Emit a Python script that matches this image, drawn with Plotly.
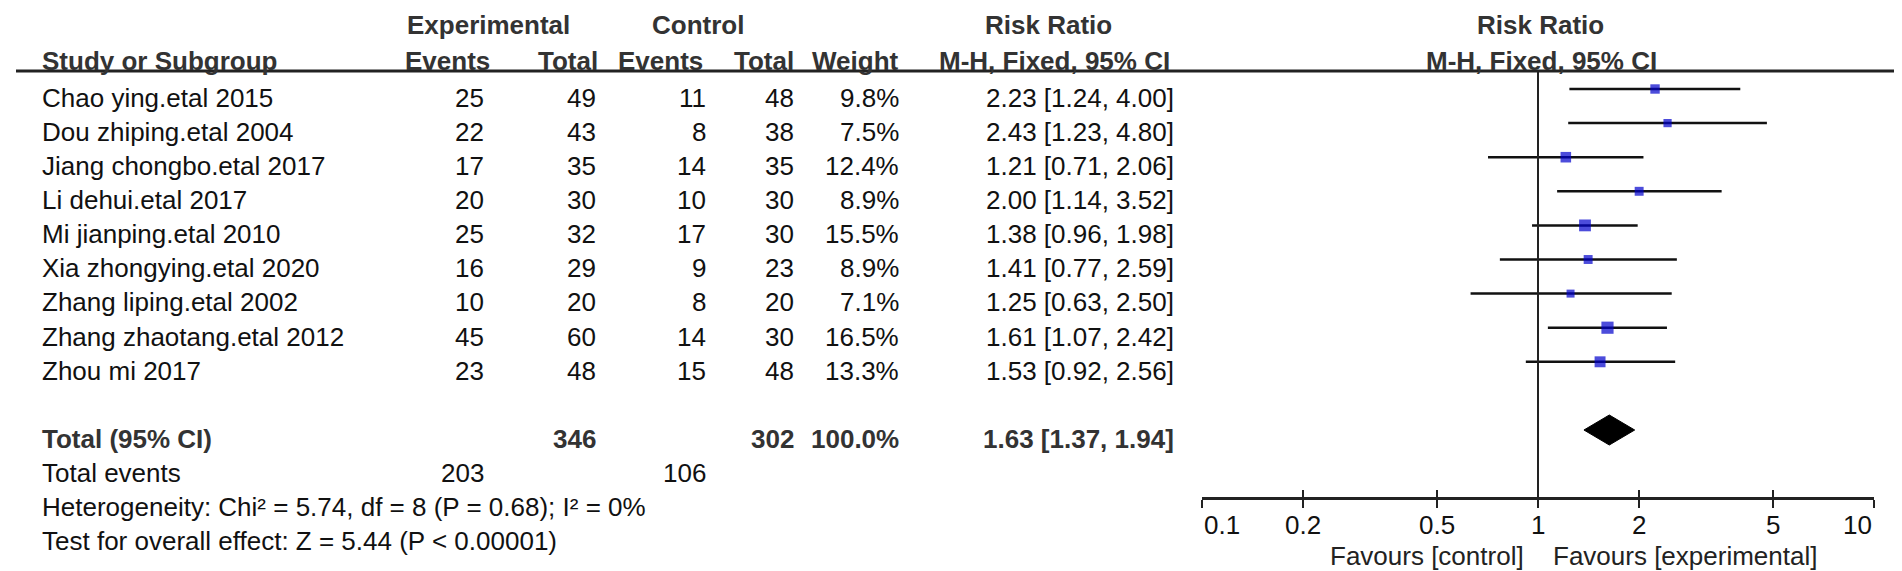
import numpy as np
import plotly.graph_objects as go

# study data
studies = ["Chao ying.etal 2015", "Dou zhiping.etal 2004", "Jiang chongbo.etal 2017",
           "Li dehui.etal 2017", "Mi jianping.etal 2010", "Xia zhongying.etal 2020",
           "Zhang liping.etal 2002", "Zhang zhaotang.etal 2012", "Zhou mi 2017"]
exp_events = [25, 22, 17, 20, 25, 16, 10, 45, 23]
exp_total = [49, 43, 35, 30, 32, 29, 20, 60, 48]
ctrl_events = [11, 8, 14, 10, 17, 9, 8, 14, 15]
ctrl_total = [48, 38, 35, 30, 30, 23, 20, 30, 48]
weight = [9.8, 7.5, 12.4, 8.9, 15.5, 8.9, 7.1, 16.5, 13.3]
rr = [2.23, 2.43, 1.21, 2.00, 1.38, 1.41, 1.25, 1.61, 1.53]
ci_lo = [1.24, 1.23, 0.71, 1.14, 0.96, 0.77, 0.63, 1.07, 0.92]
ci_hi = [4.00, 4.80, 2.06, 3.52, 1.98, 2.59, 2.50, 2.42, 2.56]

total_rr, total_lo, total_hi = 1.63, 1.37, 1.94
total_exp, total_ctrl = 346, 302
events_exp, events_ctrl = 203, 106
het_text = "Heterogeneity: Chi² = 5.74, df = 8 (P = 0.68); I² = 0%"
test_text = "Test for overall effect: Z = 5.44 (P < 0.00001)"

tick_vals = [0.1, 0.2, 0.5, 1, 2, 5, 10]
tick_text = ["0.1", "0.2", "0.5", "1", "2", "5", "10"]

W, H = 1902, 571
ROW0, ROWH = 81, 34.1          # pixel y of first row, row pitch
AXIS_PX = 490                  # pixel y of the x axis line
FONT = "Liberation Sans, Arial, sans-serif"
FS = 26
TXT_OFF = 0.26                 # table text sits a bit below the CI line

def ry(p):
    # pixel y -> row units
    return (p - ROW0) / ROWH

rows = list(range(len(studies)))
total_row = len(studies) + 1

fig = go.Figure()

# CI lines
lx, ly = [], []
for i in rows:
    lx += [ci_lo[i], ci_hi[i], None]
    ly += [i, i, None]
fig.add_trace(go.Scatter(x=lx, y=ly, mode="lines", line=dict(color="#111", width=2.5),
                         hoverinfo="skip", showlegend=False))

# weight boxes (area ~ weight)
fig.add_trace(go.Scatter(x=rr, y=rows, mode="markers",
                         marker=dict(symbol="square", color="#0000cc",
                                     size=[3.0 * np.sqrt(w) for w in weight], line=dict(width=0)),
                         hoverinfo="skip", showlegend=False))

# pooled diamond
dh = 15 / ROWH
fig.add_trace(go.Scatter(x=[total_lo, total_rr, total_hi, total_rr, total_lo],
                         y=[total_row, total_row - dh, total_row, total_row + dh, total_row],
                         mode="lines", fill="toself", fillcolor="black",
                         line=dict(color="black", width=1), hoverinfo="skip", showlegend=False))

ann = []

def txt(x, y, s, anchor="left", bold=False, color="#111"):
    if bold:
        s = "<b>" + s + "</b>"
        color = "#333"
    ann.append(dict(x=x / W, xref="paper", y=y, yref="y", text=s, showarrow=False,
                    xanchor=anchor, yanchor="middle", font=dict(family=FONT, size=FS, color=color)))

# headers
h1 = ry(17)
h2 = ry(53)
txt(481, h1, "Experimental", "center", True)
txt(690, h1, "Control", "center", True)
txt(1040, h1, "Risk Ratio", "center", True)
txt(1532, h1, "Risk Ratio", "center", True)
txt(32, h2, "Study or Subgroup", "left", True)
txt(484, h2, "Events", "right", True)
txt(592, h2, "Total", "right", True)
txt(697, h2, "Events", "right", True)
txt(788, h2, "Total", "right", True)
txt(893, h2, "Weight", "right", True)
txt(1046, h2, "M-H, Fixed, 95% CI", "center", True)
txt(1533, h2, "M-H, Fixed, 95% CI", "center", True)

# study rows
for i in rows:
    y = i + TXT_OFF
    txt(32, y, studies[i])
    txt(478, y, str(exp_events[i]), "right")
    txt(590, y, str(exp_total[i]), "right")
    txt(700, y, str(ctrl_events[i]), "right")
    txt(788, y, str(ctrl_total[i]), "right")
    txt(893, y, f"{weight[i]:.1f}%", "right")
    txt(1168, y, f"{rr[i]:.2f} [{ci_lo[i]:.2f}, {ci_hi[i]:.2f}]", "right")

# totals
y = total_row + TXT_OFF
txt(32, y, "Total (95% CI)", "left", True)
txt(590, y, str(total_exp), "right", True)
txt(788, y, str(total_ctrl), "right", True)
txt(893, y, "100.0%", "right", True)
txt(1168, y, f"{total_rr:.2f} [{total_lo:.2f}, {total_hi:.2f}]", "right", True)
y = total_row + 1 + TXT_OFF
txt(32, y, "Total events")
txt(478, y, str(events_exp), "right")
txt(700, y, str(events_ctrl), "right")
txt(32, total_row + 2 + TXT_OFF, het_text)
txt(32, total_row + 3 + TXT_OFF, test_text)

# axis tick labels, end labels pulled inward
for v, t in zip(tick_vals, tick_text):
    a = "left" if v == tick_vals[0] else ("right" if v == tick_vals[-1] else "center")
    ann.append(dict(x=np.log10(v), xref="x", y=ry(517), yref="y", text=t, showarrow=False,
                    xanchor=a, yanchor="middle", font=dict(family=FONT, size=FS, color="#111")))
txt(1518, ry(548), "Favours [control]", "right", color="#222")
txt(1543, ry(548), "Favours [experimental]", "left", color="#222")

axis_y = ry(AXIS_PX)
shapes = [
    dict(type="line", xref="paper", yref="y", x0=8 / W, x1=1, y0=ry(63), y1=ry(63),
         line=dict(color="#222", width=3)),
    dict(type="line", xref="x", yref="y", x0=1, x1=1, y0=ry(63), y1=axis_y,
         line=dict(color="#222", width=2)),
]

x0p, x1p = 1194 / W, 1866 / W
axis_pos = 1 - AXIS_PX / H
fig.update_layout(
    width=W, height=H, margin=dict(l=0, r=0, t=0, b=0),
    paper_bgcolor="white", plot_bgcolor="white",
    annotations=ann, shapes=shapes,
    xaxis=dict(type="log", range=[-1, 1], domain=[x0p, x1p], anchor="free", position=axis_pos,
               showgrid=False, zeroline=False, showline=True, linecolor="#222", linewidth=3,
               ticks="outside", ticklen=8, tickwidth=2, tickcolor="#222",
               tickvals=tick_vals, showticklabels=False),
    xaxis2=dict(type="log", range=[-1, 1], domain=[x0p, x1p], anchor="free", position=axis_pos,
                overlaying="x", showgrid=False, zeroline=False, showline=False,
                ticks="inside", ticklen=8, tickwidth=2, tickcolor="#222",
                tickvals=tick_vals, showticklabels=False),
    yaxis=dict(range=[ry(H), ry(0)], domain=[0, 1], visible=False,
               showgrid=False, zeroline=False),
)
# invisible point so the inner-tick axis is drawn
fig.add_trace(go.Scatter(x=[1], y=[0], xaxis="x2", yaxis="y", mode="markers",
                         marker=dict(opacity=0), hoverinfo="skip", showlegend=False))

fig.write_html("out.html")
